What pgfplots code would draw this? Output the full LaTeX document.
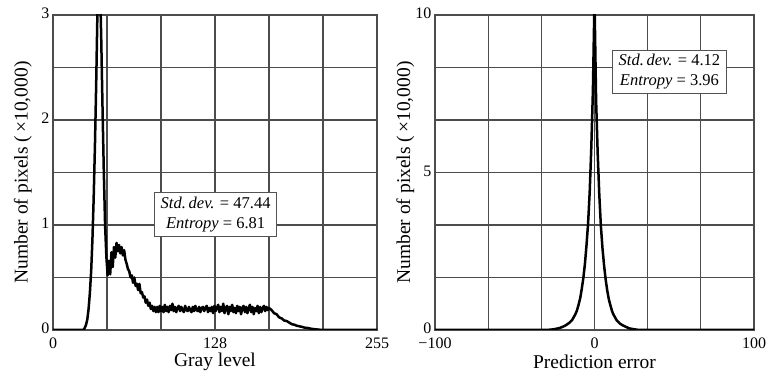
\documentclass[border=0pt]{standalone}
\usepackage{fontspec}
\setmainfont{Liberation Serif}
\usepackage{pgfplots}
\pgfplotsset{compat=1.18}
\tikzset{
  statbox/.style={draw=gray!65!black, line width=1pt, fill=white, align=center,
    font=\fontsize{16.5}{20}\selectfont, inner xsep=6pt, inner ysep=4pt},
  curve/.style={black, line width=2.5pt, line join=round},
}
\pgfplotsset{
  histo/.style={
    scale only axis, anchor=south west,
    height=315pt,
    grid=major,
    major grid style={draw=gray!60!black, line width=1.2pt},
    axis line style={draw=gray!60!black, line width=1.2pt},
    major tick length=0pt,
    tick style={draw=none},
    /pgf/number format/assume math mode=true,
    tick label style={font=\fontsize{16}{18}\selectfont, inner sep=0.5pt},
    label style={font=\fontsize{19.5}{22}\selectfont},
    ylabel={Number of pixels (\,×10,000)},
    ylabel style={at={(axis description cs:-0.093,0.5)}, anchor=center},
    xlabel style={at={(axis description cs:0.5,-0.1)}, anchor=center},
    x tick label style={yshift=-7pt},
    y tick label style={xshift=-3pt, yshift=1.5pt},
  },
}
\begin{document}
\begin{tikzpicture}[x=1pt,y=1pt]
\path[use as bounding box] (0,0) rectangle (768,379);
\begin{axis}[histo,
  at={(53pt,49pt)}, width=324pt,
  xmin=0, xmax=255, ymin=0, ymax=3,
  xtick={0,42.5,85,127.5,170,212.5,255},
  xticklabels={0,,,128,,,255},
  ytick={0,0.5,1,1.5,2,2.5,3},
  yticklabels={0,,1,,2,,3},
  xlabel={Gray level},
]
\addplot[curve] coordinates {
(0,0)(24,0)(25,0.02)(26,0.05)(27,0.1)(28,0.2)(29,0.35)(30,0.55)(31,0.85)(32,1.25)(33,1.75)(34,2.35)(35,3.05)(36,3.5)(37,3.3)(38,2.75)(39,2.1)(40,1.5)(41,1.0)(42,0.7)(43,0.52)(44,0.66)(45,0.53)(46,0.74)(47,0.6)(48,0.79)(49,0.69)(50,0.83)(51,0.75)(52,0.81)(53,0.73)(54,0.79)(55,0.71)(56,0.76)(57,0.67)(58,0.63)(59,0.58)(60,0.56)(61,0.5)(62,0.52)(63,0.45)(64,0.5)(65,0.42)(66,0.44)(67,0.38)(68,0.44)(69,0.35)(70,0.36)(71,0.31)(72,0.32)(73,0.26)(74,0.29)(75,0.23)(76,0.26)(77,0.2)(78,0.23)(79,0.18)(80,0.22)(81,0.17)
(82,0.22)(83,0.17)(84,0.23)(85,0.18)(86,0.22)(87,0.17)(88,0.24)(89,0.18)(90,0.22)(91,0.17)(92,0.23)(93,0.19)(94,0.25)(95,0.18)(96,0.22)(97,0.17)(98,0.21)(99,0.23)(100,0.18)(101,0.22)(102,0.19)(103,0.17)(104,0.23)(105,0.19)(106,0.18)(107,0.22)(108,0.19)(109,0.17)(110,0.22)(111,0.18)(112,0.23)(113,0.19)(114,0.18)(115,0.22)(116,0.17)(117,0.21)(118,0.22)(119,0.18)(120,0.21)(121,0.23)(122,0.17)(123,0.21)(124,0.18)(125,0.22)(126,0.16)(127,0.23)(128,0.18)(129,0.21)(130,0.24)(131,0.17)(132,0.22)(133,0.18)(134,0.25)(135,0.16)(136,0.21)(137,0.23)(138,0.15)(139,0.22)(140,0.18)(141,0.24)(142,0.17)(143,0.21)(144,0.16)(145,0.23)(146,0.18)(147,0.22)(148,0.15)(149,0.21)(150,0.23)(151,0.17)(152,0.22)(153,0.16)(154,0.21)(155,0.24)(156,0.17)(157,0.22)(158,0.15)(159,0.21)(160,0.18)(161,0.23)(162,0.16)(163,0.22)(164,0.17)(165,0.21)(166,0.23)(167,0.18)(168,0.22)(169,0.19)(170,0.21)
(172,0.19)(174,0.16)(176,0.15)(178,0.12)(180,0.11)(182,0.09)(184,0.085)(186,0.07)(188,0.055)(190,0.05)(192,0.04)(194,0.035)(196,0.03)(198,0.022)(200,0.02)(204,0.01)(208,0.005)(212,0)(255,0)
};
\node[statbox] at (axis cs:128,1.1) {\textit{Std.\,dev.} = 47.44\\\textit{Entropy} = 6.81};
\end{axis}
\begin{axis}[histo,
  at={(435pt,49pt)}, width=319pt,
  xmin=-100, xmax=100, ymin=0, ymax=10,
  xtick={-100,-66.667,-33.333,0,33.333,66.667,100},
  xticklabels={−100,,,0,,,100},
  ytick={0,1.6667,3.3333,5,6.6667,8.3333,10},
  yticklabels={0,,,5,,,10},
  xlabel={Prediction error},
]
\addplot[curve] coordinates {
(-100,0)(-30,0)(-28,0.01)(-26,0.02)(-24,0.04)(-22,0.06)(-20,0.1)(-18,0.15)(-16,0.22)(-14,0.32)(-12,0.5)(-11,0.62)(-10,0.8)(-9,1.0)(-8,1.3)(-7,1.65)(-6,2.1)(-5,2.7)(-4,3.4)(-3,4.4)(-2,5.8)(-1,7.6)(0,10.5)(1,7.3)(2,5.6)(3,4.3)(4,3.3)(5,2.6)(6,2.05)(7,1.6)(8,1.25)(9,0.97)(10,0.78)(11,0.6)(12,0.48)(14,0.3)(16,0.2)(18,0.14)(20,0.09)(22,0.05)(24,0.03)(26,0.015)(28,0)(100,0)
};
\node[statbox] at (axis cs:47,8.2) {\textit{Std.\,dev.} = 4.12\\\textit{Entropy} = 3.96};
\end{axis}
\end{tikzpicture}
\end{document}
